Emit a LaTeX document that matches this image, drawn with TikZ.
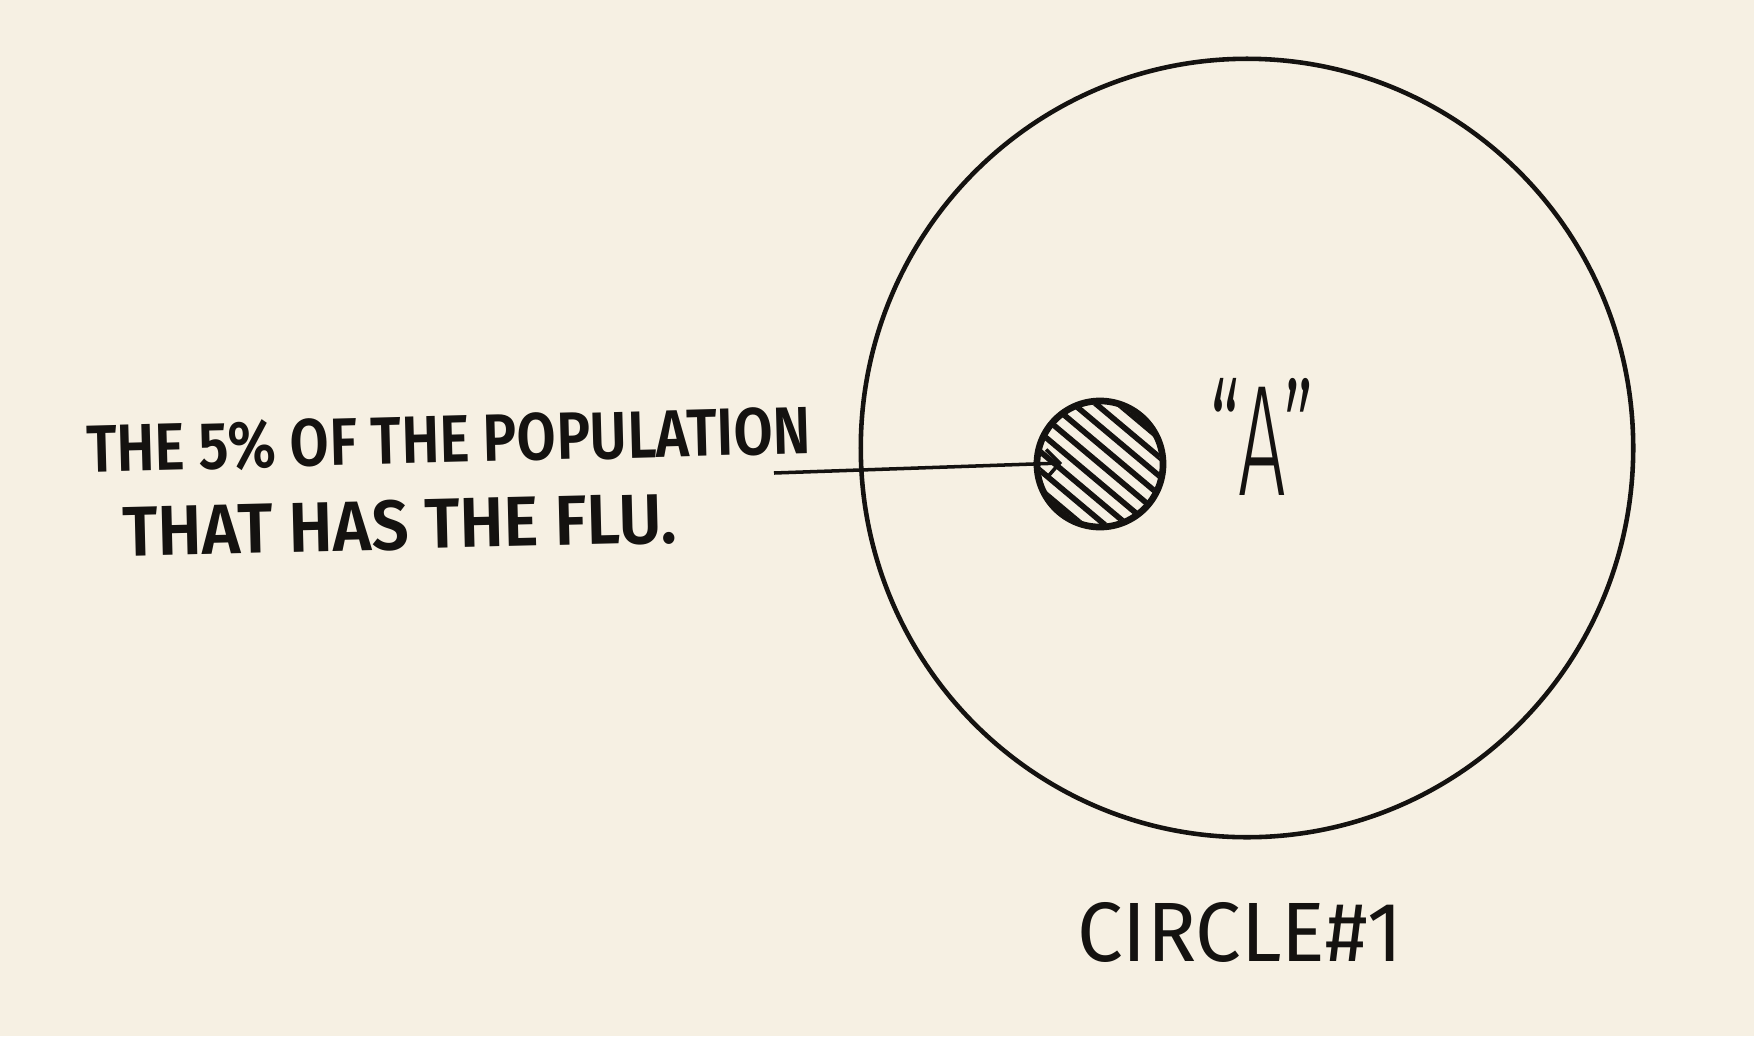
\documentclass[tikz,border=0pt]{standalone}
\usepackage{fontspec}
\setmainfont{Fira Sans}
\usetikzlibrary{arrows.meta,shapes.geometric,calc}
\definecolor{paper}{HTML}{F6F0E3}
\definecolor{ink}{HTML}{141210}
\begin{document}
\begin{tikzpicture}[x=0.01cm,y=-0.01cm,
  hand/.style={inner sep=0pt, outer sep=0pt, text=ink},
  outline/.style={draw=ink, line width=1.3pt},
  hatch/.style={draw=ink, line width=1.6pt},
  pointer/.style={draw=ink, line width=1pt, -{Straight Barb[length=1.3mm,width=2.8mm,line width=1pt]}}]
\fill[paper] (0,0) rectangle (1754,1036);
\useasboundingbox (0,0) rectangle (1754,1036);
% population circle
\node[outline, ellipse, minimum width=7.72cm, minimum height=7.78cm, inner sep=0pt] (pop) at (1247,448) {};
% flu circle
\node[circle, draw=ink, line width=1.9pt, minimum size=1.26cm, inner sep=0pt] (flu) at (1100,464) {};
\begin{scope}
  \clip (1100,464) circle (0.6cm);
  \foreach \k in {-4,...,4} {
    \draw[hatch] ($(1100,464)+(\k*-9.3,\k*11.1)+(-70*0.766,-70*0.643)$) -- ++(140*0.766,140*0.643);
  }
\end{scope}
% labels
\node[hand, rotate=1.5] (line1) at (449,440) {\resizebox{7.24cm}{0.48cm}{\fontspec{Fira Sans SemiBold}THE 5\% OF THE POPULATION}};
\node[hand, rotate=1.4] (line2) at (400,525) {\resizebox{5.54cm}{0.5cm}{\fontspec{Fira Sans SemiBold}THAT HAS THE FLU.}};
\node[hand] (alabel) at (1262,437) {\resizebox{1.05cm}{1.17cm}{\fontspec{Fira Sans Light}“A”}};
\node[hand] (cap) at (1240,932) {\resizebox{3.25cm}{0.59cm}{CIRCLE\#1}};
% pointer
\coordinate (armstart) at (774,473);
\coordinate (tip) at (1062,463);
\draw[pointer] (armstart) -- (tip);
\end{tikzpicture}
\end{document}
